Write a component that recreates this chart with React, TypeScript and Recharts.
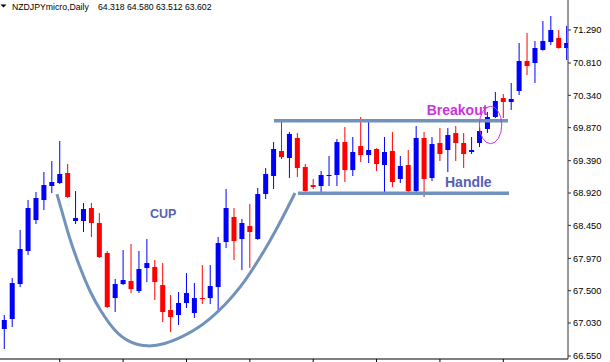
import React from 'react';
import { ComposedChart, Bar, Line, XAxis, YAxis, ReferenceLine, ReferenceDot } from 'recharts';

const days = Array.from({ length: 72 }, (_, i) => i + 1);
const opens = [
  66.943, 67.088, 67.597, 68.077, 68.527, 68.818, 69.022, 69.065, 69.211, 68.513,
  68.513, 68.702, 68.484, 68.048, 67.393, 67.597, 67.641, 67.495, 67.830, 67.844,
  67.582, 67.219, 67.146, 67.321, 67.175, 67.393, 67.393, 67.553, 68.208, 68.571,
  68.251, 68.440, 68.251, 68.905, 69.167, 69.531, 69.429, 69.720, 69.298, 69.036,
  69.022, 69.167, 69.182, 69.661, 69.254, 69.603, 69.472, 69.560, 69.327, 69.531,
  69.124, 69.327, 68.949, 69.720, 69.138, 69.647, 69.545, 69.792, 69.647, 69.516,
  69.647, 69.850, 70.025, 70.301, 70.243, 70.403, 70.839, 70.810, 70.999, 71.115,
  71.174, 71.028,
];
const highs = [
  67.146, 67.684, 68.382, 68.818, 68.935, 69.225, 69.385, 69.676, 69.342, 68.949,
  68.775, 68.775, 68.629, 68.077, 67.670, 68.091, 68.178, 68.077, 68.251, 67.946,
  67.902, 67.437, 67.481, 67.757, 67.611, 67.873, 67.873, 68.280, 68.978, 68.702,
  68.542, 68.760, 68.993, 69.283, 69.661, 69.967, 69.807, 69.792, 69.342, 69.124,
  69.240, 69.458, 69.705, 69.880, 69.734, 70.025, 69.967, 69.570, 69.734, 69.807,
  69.458, 69.545, 69.894, 69.807, 69.734, 69.865, 69.865, 69.894, 69.792, 69.734,
  69.880, 70.098, 70.388, 70.359, 70.519, 71.101, 71.246, 71.130, 71.421, 71.493,
  71.290, 71.348,
];
const lows = [
  66.652, 66.972, 67.553, 68.019, 68.469, 68.673, 68.920, 69.051, 68.850, 68.469,
  68.353, 68.280, 67.975, 67.248, 67.190, 67.582, 67.466, 67.466, 67.626, 67.364,
  67.044, 66.899, 67.001, 67.248, 67.103, 67.306, 67.306, 67.219, 68.120, 67.946,
  67.800, 67.830, 68.240, 68.833, 68.978, 69.414, 69.138, 69.153, 68.940, 68.978,
  68.920, 69.022, 69.022, 69.080, 69.167, 69.371, 69.356, 69.240, 68.935, 69.007,
  69.065, 68.920, 68.935, 68.862, 69.094, 69.385, 69.225, 69.385, 69.283, 69.487,
  69.589, 69.792, 70.010, 70.010, 70.127, 70.345, 70.636, 70.519, 70.990, 71.072,
  71.020, 70.854,
];
const closes = [
  67.074, 67.611, 68.106, 68.702, 68.847, 69.036, 69.080, 69.196, 68.862, 68.557,
  68.687, 68.484, 67.989, 67.263, 67.597, 67.655, 67.524, 67.815, 67.902, 67.626,
  67.190, 67.117, 67.321, 67.466, 67.393, 67.379, 67.568, 68.193, 68.702, 68.222,
  68.484, 68.353, 68.905, 69.196, 69.560, 69.443, 69.778, 69.283, 68.950, 69.007,
  69.182, 69.182, 69.661, 69.254, 69.516, 69.472, 69.545, 69.342, 69.516, 69.080,
  69.313, 68.949, 69.720, 69.124, 69.632, 69.487, 69.763, 69.647, 69.487, 69.545,
  69.821, 70.025, 70.258, 70.243, 70.287, 70.839, 70.766, 71.028, 71.130, 71.290,
  71.028, 71.101,
];

const priceTicks = [66.55, 67.03, 67.5, 67.97, 68.45, 68.92, 69.39, 69.87, 70.34, 70.81, 71.29];
const dayTicks = [8, 16, 24, 32, 40, 48, 56, 64];

// Cup annotation curve (day position, price)
const cupDays = [7.65, 8.41, 9.29, 10.56, 11.82, 13.08, 14.98, 16.87, 19.14, 21.29, 23.18, 25.08, 26.97, 28.87, 30.76, 32.65, 34.55, 36.19, 37.7];
const cupPrices = [68.905, 68.6, 68.237, 67.83, 67.481, 67.219, 66.899, 66.739, 66.681, 66.725, 66.812, 66.928, 67.088, 67.292, 67.539, 67.859, 68.222, 68.571, 68.92];

const resistanceLevel = 69.971;
const supportLevel = 68.916;

const candles = days.map((d, i) => ({
  x: d,
  open: opens[i],
  high: highs[i],
  low: lows[i],
  close: closes[i],
}));
const cupData = cupDays.map((d, i) => ({ x: d, p: cupPrices[i] }));

const LINE_COLOR = '#7192bc';
const TEXT_BLUE = '#5560b4';
const MAGENTA = '#cc33dd';

const Candle = (props: any) => {
  const { x, y, width, height, payload } = props;
  if (!payload) return null;
  const { open, close, high, low } = payload;
  const cx = x + width / 2;
  const top = Math.min(y, y + height);
  const h = Math.abs(height);
  const ppu = high > low ? h / (high - low) : 0;
  const bodyTop = top + (high - Math.max(open, close)) * ppu;
  const bodyBot = top + (high - Math.min(open, close)) * ppu;
  const color = close >= open ? '#0000ff' : '#ff0000';
  return (
    <g>
      <line x1={cx} x2={cx} y1={top} y2={top + h} stroke={color} strokeWidth={1} />
      <rect x={cx - 2.5} y={bodyTop} width={5} height={Math.max(1, bodyBot - bodyTop)} fill={color} />
    </g>
  );
};

const textShape = (label: string, color: string, size: number) => (p: any) => (
  <text x={p.cx} y={p.cy} fill={color} fontSize={size} fontWeight="bold" fontFamily="'Liberation Sans', Arial, sans-serif">
    {label}
  </text>
);

export default function App() {
  return (
    <div style={{ position: 'absolute', left: 0, top: 0, width: 610, height: 362, background: '#fff' }}>
      <ComposedChart width={610} height={362} data={candles} margin={{ top: 0, right: 0, left: 0, bottom: 0 }}>
        <XAxis
          dataKey="x"
          type="number"
          domain={[0.457, 72.17]}
          allowDataOverflow
          ticks={dayTicks}
          tickFormatter={() => ''}
          height={3}
          tickSize={3}
          stroke="#000"
          tickLine={{ stroke: '#000' }}
        />
        <YAxis
          orientation="right"
          type="number"
          domain={[66.507, 71.726]}
          allowDataOverflow
          ticks={priceTicks}
          tickFormatter={(v: number) => v.toFixed(3)}
          width={42}
          tickSize={3}
          tickMargin={2}
          stroke="#333"
          tick={{ fill: '#000', fontSize: 9.3, fontFamily: "'Liberation Sans', Arial, sans-serif" }}
        />
        <Bar dataKey={(d: any) => [d.low, d.high]} barSize={5} shape={Candle} isAnimationActive={false} />
        <Line data={cupData} dataKey="p" type="basis" stroke={LINE_COLOR} strokeWidth={3} dot={false} activeDot={false} isAnimationActive={false} />
        <ReferenceLine segment={[{ x: 35.05, y: resistanceLevel }, { x: 64.6, y: resistanceLevel }]} stroke={LINE_COLOR} strokeWidth={3.5} />
        <ReferenceLine segment={[{ x: 38.08, y: supportLevel }, { x: 64.72, y: supportLevel }]} stroke={LINE_COLOR} strokeWidth={3.5} />
        <ReferenceDot x={62.39} y={69.909} r={0} shape={(p: any) => (
          <ellipse cx={p.cx} cy={p.cy} rx={11.2} ry={18.7} fill="none" stroke={MAGENTA} strokeWidth={1} />
        )} />
        <ReferenceDot x={54.33} y={70.047} r={0} shape={textShape('Breakout', MAGENTA, 14)} />
        <ReferenceDot x={56.64} y={69.007} r={0} shape={textShape('Handle', TEXT_BLUE, 14)} />
        <ReferenceDot x={19.4} y={68.552} r={0} shape={textShape('CUP', TEXT_BLUE, 12.5)} />
      </ComposedChart>
      <svg width={610} height={16} style={{ position: 'absolute', left: 0, top: 0, pointerEvents: 'none' }}>
        <polygon points="0.5,4.5 6.5,4.5 3.5,7.5" fill="#000" />
        <text x={12} y={10} fontSize={8.7} fill="#000" fontFamily="'Liberation Sans', Arial, sans-serif">NZDJPYmicro,Daily</text>
        <text x={98} y={10} fontSize={8.7} fill="#000" fontFamily="'Liberation Sans', Arial, sans-serif">64.318 64.580 63.512 63.602</text>
      </svg>
    </div>
  );
}
